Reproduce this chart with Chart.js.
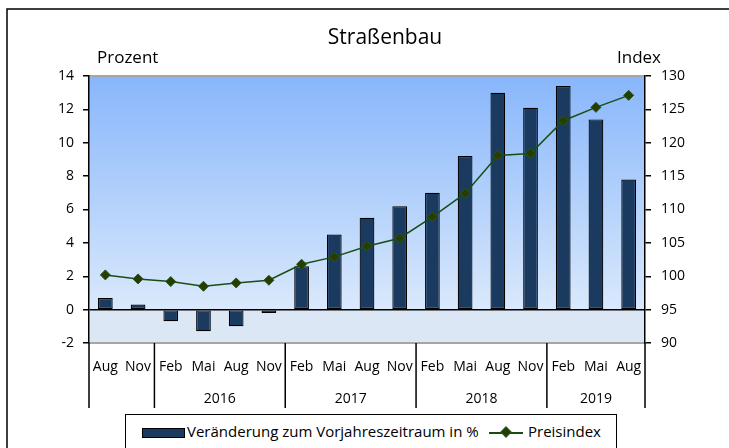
<!DOCTYPE html>
<html lang="de">
<head>
<meta charset="utf-8">
<title>Straßenbau</title>
<script src="https://cdn.jsdelivr.net/npm/chart.js@4.4.1/dist/chart.umd.min.js"></script>
<style>
    html, body { margin: 0; padding: 0; background: #fff; overflow: hidden; }
    #wrap { position: relative; width: 729px; height: 448px; }
    #legende {
        position: absolute; left: 125px; top: 414px; width: 492px; height: 60px;
        border: 1px solid #000; box-sizing: border-box; background: #fff;
        font-family: "Open Sans", sans-serif; font-size: 15px; color: #000;
    }
    .item { position: absolute; top: 6px; line-height: 20px; white-space: nowrap; }
    .balken { display: inline-block; width: 41px; height: 8px; background: #1a3a60; border: 1px solid #000; vertical-align: middle; margin-right: 2px; }
    .linie { display: inline-block; position: relative; width: 34px; height: 2px; background: #1a4d14; vertical-align: middle; margin-right: 5px; }
    .linie span { position: absolute; left: 13px; top: -4px; width: 6px; height: 6px; background: #2b3b00; border: 1px solid #1d5a1d; transform: rotate(45deg); }
</style>
</head>
<body>
<div id="wrap">
    <canvas id="grafico" width="729" height="448"></canvas>
    <div id="legende">
        <div class="item" style="left:16px"><span class="balken"></span>Veränderung zum Vorjahreszeitraum in %</div>
        <div class="item" style="left:363px"><span class="linie"><span></span></span>Preisindex</div>
    </div>
</div>
<script>
// Datos del gráfico
const meses = ["Aug", "Nov", "Feb", "Mai", "Aug", "Nov", "Feb", "Mai", "Aug", "Nov", "Feb", "Mai", "Aug", "Nov", "Feb", "Mai", "Aug"];
const veraenderung = [0.7, 0.3, -0.7, -1.3, -1.0, -0.2, 2.6, 4.5, 5.5, 6.2, 7.0, 9.2, 13.0, 12.1, 13.4, 11.4, 7.8];
const preisindex = [100.2, 99.6, 99.2, 98.5, 99.0, 99.4, 101.8, 102.9, 104.5, 105.7, 108.9, 112.4, 118.1, 118.4, 123.3, 125.3, 127.1];
const jahre = ["2016", "2017", "2018", "2019"];
const jahrStart = [2, 6, 10, 14];
const jahrEnde = [5, 9, 13, 16];

const fuente = "'Open Sans', sans-serif";

// Fondo, marco, títulos y años
const extras = {
    id: "extras",
    beforeDraw(chart) {
        const ctx = chart.ctx;
        const area = chart.chartArea;
        const y = chart.scales.y;
        const cero = y.getPixelForValue(0);
        ctx.save();
        ctx.fillStyle = "#fff";
        ctx.fillRect(0, 0, chart.width, chart.height);
        // marco exterior
        ctx.strokeStyle = "#000";
        ctx.lineWidth = 1.5;
        ctx.strokeRect(7, 9, 800, 600);
        // degradado sobre cero
        const grad = ctx.createLinearGradient(0, area.top, 0, cero);
        grad.addColorStop(0, "#88b6fb");
        grad.addColorStop(1, "#dae9fc");
        ctx.fillStyle = grad;
        ctx.fillRect(area.left, area.top, area.right - area.left, cero - area.top);
        ctx.fillStyle = "#dce7f5";
        ctx.fillRect(area.left, cero, area.right - area.left, area.bottom - cero);
        // líneas grises arriba y abajo
        ctx.strokeStyle = "#a6a6a6";
        ctx.lineWidth = 2;
        ctx.beginPath();
        ctx.moveTo(area.left, area.top);
        ctx.lineTo(area.right, area.top);
        ctx.moveTo(area.left, area.bottom);
        ctx.lineTo(area.right, area.bottom);
        ctx.stroke();
        ctx.restore();
    },
    afterDraw(chart) {
        const ctx = chart.ctx;
        const area = chart.chartArea;
        const x = chart.scales.x;
        ctx.save();
        ctx.fillStyle = "#000";
        ctx.textBaseline = "middle";
        ctx.textAlign = "center";
        ctx.font = "21px " + fuente;
        ctx.fillText("Straßenbau", 385, 38);
        ctx.font = "17px " + fuente;
        ctx.textAlign = "left";
        ctx.fillText("Prozent", 97, 58);
        ctx.textAlign = "right";
        ctx.fillText("Index", 661, 58);

        // separadores de años
        const mitte = (a, b) => (x.getPixelForValue(a) + x.getPixelForValue(b)) / 2;
        const grenzen = [area.left, area.right];
        jahrStart.forEach(i => grenzen.push(mitte(i - 1, i)));
        ctx.strokeStyle = "#000";
        ctx.lineWidth = 1.5;
        ctx.beginPath();
        grenzen.forEach(px => {
            ctx.moveTo(px, area.bottom);
            ctx.lineTo(px, 408);
        });
        ctx.stroke();

        ctx.font = "14px " + fuente;
        ctx.textAlign = "center";
        jahre.forEach((j, k) => {
            const px = (x.getPixelForValue(jahrStart[k]) + x.getPixelForValue(jahrEnde[k])) / 2;
            ctx.fillText(j, px, 399);
        });
        ctx.restore();
    }
};

new Chart(document.getElementById("grafico"), {
    type: "bar",
    data: {
        labels: meses,
        datasets: [{
            type: "line",
            label: "Preisindex",
            data: preisindex,
            yAxisID: "y1",
            borderColor: "#1a4d14",
            borderWidth: 1.5,
            pointStyle: "rectRot",
            pointRadius: 5,
            pointBackgroundColor: "#2b3b00",
            pointBorderColor: "#1d5a1d",
            pointBorderWidth: 1,
            tension: 0,
            order: 0
        }, {
            label: "Veränderung zum Vorjahreszeitraum in %",
            data: veraenderung,
            yAxisID: "y",
            backgroundColor: "#1a3a60",
            borderColor: "#000",
            borderWidth: 1.2,
            borderSkipped: false,
            barPercentage: 0.45,
            categoryPercentage: 1,
            order: 1
        }]
    },
    options: {
        responsive: false,
        animation: false,
        layout: { padding: { top: 76, left: 0, right: 0, bottom: 0 } },
        plugins: { legend: { display: false }, tooltip: { enabled: false } },
        scales: {
            x: {
                grid: { display: false },
                border: { display: false },
                ticks: { color: "#000", font: { family: fuente, size: 14 }, maxRotation: 0, autoSkip: false, padding: 8 },
                afterFit(scale) { scale.height = 105; }
            },
            y: {
                position: "left",
                min: -2, max: 14,
                ticks: { stepSize: 2, color: "#000", font: { family: fuente, size: 14 }, padding: 9 },
                border: { display: true, color: "#000", width: 1.5 },
                grid: {
                    color: ctx => ctx.tick && ctx.tick.value === 0 ? "#000" : "rgba(0,0,0,0)",
                    tickColor: "#000",
                    tickLength: 6,
                    lineWidth: 1.5
                },
                afterFit(scale) { scale.width = 89; }
            },
            y1: {
                position: "right",
                min: 90, max: 130,
                ticks: { stepSize: 5, color: "#000", font: { family: fuente, size: 14 }, padding: 10 },
                border: { display: true, color: "#000", width: 1.5 },
                grid: { drawOnChartArea: false, tickColor: "#000", tickLength: 6, lineWidth: 1.5 },
                afterFit(scale) { scale.width = 84; }
            }
        }
    },
    plugins: [extras]
});
</script>
</body>
</html>
